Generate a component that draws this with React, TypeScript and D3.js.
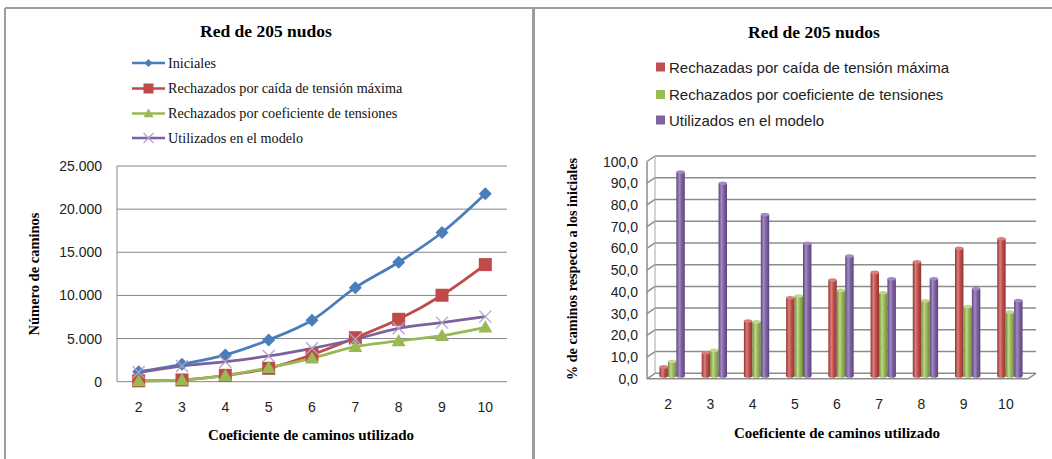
import React from "react";
import * as d3 from "d3";

const categories = ["2", "3", "4", "5", "6", "7", "8", "9", "10"];

// Left chart: number of paths
const lineSeriesNames = [
  "Iniciales",
  "Rechazados por caída de tensión máxima",
  "Rechazados por coeficiente de tensiones",
  "Utilizados en el modelo",
];
const iniciales = [1160, 2020, 3100, 4840, 7120, 10900, 13850, 17290, 21780];
const rechazadosCaida = [100, 200, 740, 1550, 3130, 5100, 7230, 10020, 13570];
const rechazadosCoef = [70, 200, 700, 1630, 2710, 4060, 4720, 5340, 6300];
const utilizados = [1100, 1820, 2320, 2980, 3870, 4920, 6190, 6850, 7540];
const leftTicks = [0, 5000, 10000, 15000, 20000, 25000];

// Right chart: % of initial paths
const barSeriesNames = [
  "Rechazadas por caída de tensión máxima",
  "Rechazados por coeficiente de tensiones",
  "Utilizados en el modelo",
];
const pctCaida = [4.2, 10.7, 25.3, 36.0, 44.2, 47.7, 52.6, 58.8, 63.2];
const pctCoef = [6.7, 11.8, 25.0, 36.8, 39.5, 38.3, 34.6, 32.0, 29.4];
const pctUtil = [93.9, 88.7, 74.3, 61.1, 55.2, 44.8, 44.8, 40.3, 34.8];
const rightTicks = [0, 10, 20, 30, 40, 50, 60, 70, 80, 90, 100];

const SERIF = "'Liberation Serif', 'DejaVu Serif', serif";
const SANS = "'Liberation Sans', Arial, sans-serif";

const lineColors = ["#4A7EBB", "#BE4B48", "#98B954", "#7D60A0"];
const barBase = [
  { mid: "#C0504D", light: "#DA7F7C", dark: "#923532" },
  { mid: "#9BBB59", light: "#BFD78A", dark: "#708B38" },
  { mid: "#8064A2", light: "#A38BC2", dark: "#5A447C" },
];

function fmtThousands(v: number) {
  return d3.format(",")(v).replace(/,/g, ".");
}

function Marker({ i, x, y, legend }: { i: number; x: number; y: number; legend?: boolean }) {
  const c = lineColors[i];
  if (i === 0) {
    const s = legend ? 4 : 6.5;
    return <path d={`M${x},${y - s}L${x + s},${y}L${x},${y + s}L${x - s},${y}Z`} fill={c} />;
  }
  if (i === 1) {
    const s = legend ? 5 : 6.5;
    return <rect x={x - s} y={y - s} width={2 * s} height={2 * s} fill={c} />;
  }
  if (i === 2) {
    const s = legend ? 5 : 7;
    return <path d={`M${x},${y - s}L${x + s},${y + s * 0.75}L${x - s},${y + s * 0.75}Z`} fill={c} />;
  }
  const s = legend ? 5 : 6;
  return (
    <path
      d={`M${x - s},${y - s}L${x + s},${y + s}M${x + s},${y - s}L${x - s},${y + s}`}
      stroke="#B3A2C7"
      strokeWidth={1.3}
    />
  );
}

function LeftChart() {
  const x = d3.scalePoint<string>().domain(categories).range([117, 507]).padding(0.5);
  const y = d3.scaleLinear().domain([0, 25000]).range([381.7, 166]);
  const series = [iniciales, rechazadosCaida, rechazadosCoef, utilizados];
  const line = d3
    .line<number>()
    .x((_, k) => x(categories[k])!)
    .y((d) => y(d))
    .curve(d3.curveCatmullRom.alpha(0.5));
  const legendY = [63, 88.5, 113.5, 138];
  return (
    <g>
      <text x={266} y={37} textAnchor="middle" fontFamily={SERIF} fontWeight="bold" fontSize={17.5}>
        Red de 205 nudos
      </text>
      {lineSeriesNames.map((n, i) => (
        <g key={n}>
          <line x1={132} x2={165} y1={legendY[i]} y2={legendY[i]} stroke={lineColors[i]} strokeWidth={2.5} />
          <Marker i={i} x={148.5} y={legendY[i]} legend />
          <text x={168} y={legendY[i] + 4.5} fontFamily={SERIF} fontSize={14.2} fill="#111">
            {n}
          </text>
        </g>
      ))}
      {leftTicks.map((t) => (
        <g key={t}>
          <line x1={117} x2={507} y1={y(t)} y2={y(t)} stroke="#868686" strokeWidth={1} />
          <text x={102} y={y(t) + 5} textAnchor="end" fontFamily={SANS} fontSize={14} fill="#222">
            {fmtThousands(t)}
          </text>
        </g>
      ))}
      <line x1={117} x2={117} y1={166} y2={381.7} stroke="#868686" strokeWidth={1} />
      {categories.map((c) => (
        <text key={c} x={x(c)} y={412} textAnchor="middle" fontFamily={SANS} fontSize={14} fill="#222">
          {c}
        </text>
      ))}
      <text x={311} y={440} textAnchor="middle" fontFamily={SERIF} fontWeight="bold" fontSize={15}>
        Coeficiente de caminos utilizado
      </text>
      <text
        transform="translate(39,274) rotate(-90)"
        textAnchor="middle"
        fontFamily={SERIF}
        fontWeight="bold"
        fontSize={14.5}
      >
        Número de caminos
      </text>
      {series.map((s, i) => (
        <path key={i} d={line(s)!} fill="none" stroke={lineColors[i]} strokeWidth={2.8} />
      ))}
      {series.map((s, i) =>
        s.map((v, k) => <Marker key={`${i}-${k}`} i={i} x={x(categories[k])!} y={y(v)} />)
      )}
    </g>
  );
}

function RightChart() {
  const depthX = 8;
  const depthY = 5.5;
  const yBack = d3.scaleLinear().domain([0, 100]).range([373.3, 156]);
  const xFront = d3.scaleBand<string>().domain(categories).range([647, 1027]);
  const xMid = d3.scaleBand<string>().domain(categories).range([651, 1031]);
  const bw = xMid.bandwidth() * 0.2;
  const series = [pctCaida, pctCoef, pctUtil];
  const legendY = [67, 94.5, 120];
  const frontLeft = 647;
  const backLeft = frontLeft + depthX;
  const backRight = 1036;
  return (
    <g>
      <defs>
        {barBase.map((b, i) => (
          <linearGradient key={i} id={`cyl${i}`} x1="0" x2="1" y1="0" y2="0">
            <stop offset="0" stopColor={b.dark} />
            <stop offset="0.35" stopColor={b.light} />
            <stop offset="0.6" stopColor={b.mid} />
            <stop offset="1" stopColor={b.dark} />
          </linearGradient>
        ))}
      </defs>
      <text x={814} y={38} textAnchor="middle" fontFamily={SERIF} fontWeight="bold" fontSize={17.5}>
        Red de 205 nudos
      </text>
      {barSeriesNames.map((n, i) => (
        <g key={n}>
          <rect x={656} y={legendY[i] - 4.5} width={9} height={9} fill={barBase[i].mid} />
          <text x={669} y={legendY[i] + 5.5} fontFamily={SANS} fontSize={15} fill="#222">
            {n}
          </text>
        </g>
      ))}
      {rightTicks.map((t) => (
        <g key={t}>
          <line x1={backLeft} x2={backRight} y1={yBack(t)} y2={yBack(t)} stroke="#8C8C8C" strokeWidth={1.5} />
          <line
            x1={frontLeft}
            x2={backLeft}
            y1={yBack(t) + depthY}
            y2={yBack(t)}
            stroke="#8C8C8C"
            strokeWidth={1.5}
          />
          <text
            x={638}
            y={yBack(t) + depthY + 5}
            textAnchor="end"
            fontFamily={SANS}
            fontSize={14}
            fill="#222"
          >
            {d3.format(".1f")(t).replace(".", ",")}
          </text>
        </g>
      ))}
      <line x1={backLeft} x2={backLeft} y1={yBack(100)} y2={yBack(0)} stroke="#A6A6A6" strokeWidth={1} />
      <line
        x1={frontLeft}
        x2={frontLeft}
        y1={yBack(100) + depthY}
        y2={yBack(0) + depthY}
        stroke="#8C8C8C"
        strokeWidth={1.5}
      />
      <path
        d={`M${frontLeft},${yBack(0) + depthY}L${backRight - depthX},${yBack(0) + depthY}L${backRight},${yBack(0)}`}
        fill="none"
        stroke="#8C8C8C"
        strokeWidth={1.5}
      />
      {categories.map((c, k) =>
        series.map((s, i) => {
          const x0 = xMid(c)! + xMid.bandwidth() / 2 - 1.5 * bw + i * bw;
          const yb = yBack(0) + depthY / 2;
          const yt = yBack(s[k]) + depthY / 2;
          const ry = 1.8;
          return (
            <g key={`${c}-${i}`}>
              <rect x={x0} y={yt} width={bw} height={yb - yt} fill={`url(#cyl${i})`} />
              <ellipse cx={x0 + bw / 2} cy={yb} rx={bw / 2} ry={ry} fill={`url(#cyl${i})`} />
              <ellipse cx={x0 + bw / 2} cy={yt} rx={bw / 2} ry={ry} fill={barBase[i].light} />
            </g>
          );
        })
      )}
      {categories.map((c) => (
        <text
          key={c}
          x={xFront(c)! + xFront.bandwidth() / 2}
          y={409}
          textAnchor="middle"
          fontFamily={SANS}
          fontSize={14}
          fill="#222"
        >
          {c}
        </text>
      ))}
      <text x={837} y={438} textAnchor="middle" fontFamily={SERIF} fontWeight="bold" fontSize={15}>
        Coeficiente de caminos utilizado
      </text>
      <text
        transform="translate(577,269) rotate(-90)"
        textAnchor="middle"
        fontFamily={SERIF}
        fontWeight="bold"
        fontSize={14.2}
      >
        % de caminos respecto a los iniciales
      </text>
    </g>
  );
}

export default function App() {
  return (
    <svg
      width={1052}
      height={459}
      viewBox="0 0 1052 459"
      style={{ position: "absolute", left: 0, top: 0, background: "#fff" }}
    >
      <rect x={0} y={0} width={1052} height={459} fill="#fff" />
      <line x1={5} x2={1052} y1={8} y2={8} stroke="#9C9C9C" strokeWidth={2} />
      <line x1={5} x2={5} y1={8} y2={459} stroke="#9C9C9C" strokeWidth={2} />
      <line x1={533.5} x2={533.5} y1={8} y2={459} stroke="#9C9C9C" strokeWidth={3} />
      <LeftChart />
      <RightChart />
    </svg>
  );
}
